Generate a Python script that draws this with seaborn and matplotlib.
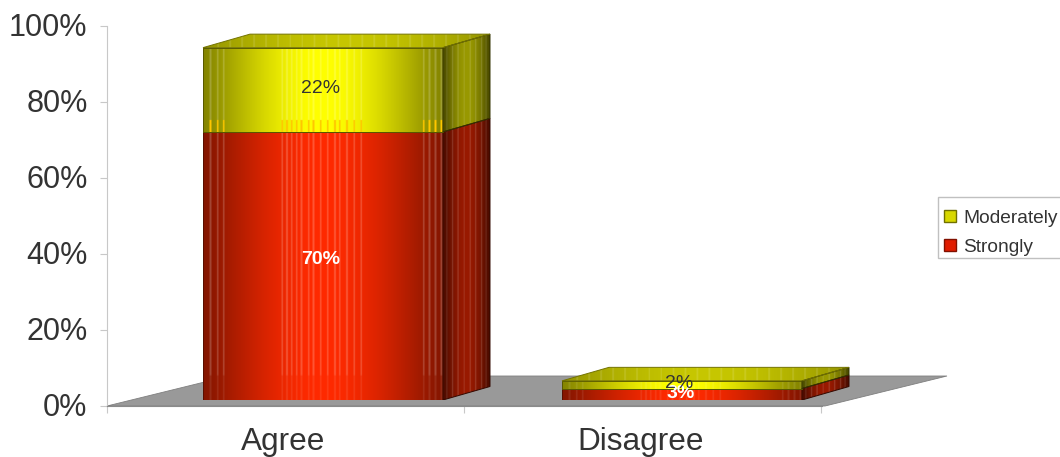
import numpy as np
import pandas as pd
import matplotlib
matplotlib.use("Agg")
import matplotlib.pyplot as plt
from matplotlib.patches import Polygon, Patch, Rectangle
from matplotlib.transforms import ScaledTranslation
import seaborn as sns

categories = ["Agree", "Disagree"]
strongly = [70, 3]
moderately = [22, 2]
strongly_labels = ["70%", "3%"]
moderately_labels = ["22%", "2%"]
y_ticks = [0, 20, 40, 60, 80, 100]

RED = np.array([255, 42, 0]) / 255
YELLOW = np.array([255, 255, 0]) / 255
FLOOR = "#999999"
TEXT = "#333333"
STREAKS = [.03, .06, .085, .33, .35, .37, .39, .41, .44, .46, .49, .52, .55,
           .57, .60, .63, .66, .92, .945, .97, .995]

W, H = 1060, 457
PX_X = 359.0          # pixels per category step
BAR_WIDTH = 240 / PX_X
LEFT_PX, RIGHT_PX = 107, 822
CAT0_PX = 323
DEPTH_X = 47 / PX_X
PX_PCT = 3.83
DEPTH_Y = 13.5 / PX_PCT
FLOOR_LINE_PCT = 24 / PX_PCT   # height on the front plane where the floor's back edge lies

sns.set_theme(style="white")
plt.rcParams["font.family"] = ["Liberation Sans", "DejaVu Sans"]

fig = plt.figure(figsize=(W / 100, H / 100), dpi=100)


def px_axes(left, right, bottom, top, **kw):
    return fig.add_axes([left / W, 1 - bottom / H, (right - left) / W, (bottom - top) / H], **kw)


# Wall and floor axes carry the ticks; the bars live on a wider front plane axes above them.
FRONT_RIGHT_PX = 900
ax = px_axes(LEFT_PX, RIGHT_PX, 406, 26)
front = px_axes(LEFT_PX, FRONT_RIGHT_PX, 400, 400 - 100 * PX_PCT)
xlim = ((LEFT_PX - CAT0_PX) / PX_X, (RIGHT_PX - CAT0_PX) / PX_X)
front_xlim = (xlim[0], (FRONT_RIGHT_PX - CAT0_PX) / PX_X)

ax.set_zorder(1)
front.set_zorder(2)
front.patch.set_visible(False)
front.axis("off")

df = pd.DataFrame({"category": categories, "strongly": strongly, "moderately": moderately})
sns.barplot(data=df, x="category", y="strongly", order=categories, color="#ff2a00",
            width=BAR_WIDTH, ax=front, legend=False, saturation=1)
sns.barplot(data=df, x="category", y="moderately", order=categories, color="#ffff00",
            width=BAR_WIDTH, bottom=df["strongly"], ax=front, legend=False, saturation=1)
front.set_xlim(front_xlim)
front.set_ylim(0, 100)
front.autoscale(False)


def shaded_face(axes, rgb, verts, extent, edge):
    img = axes.imshow(rgb, extent=extent, aspect="auto", zorder=3, interpolation="bilinear",
                      origin="lower")
    poly = Polygon(verts, closed=True, facecolor="none", edgecolor=edge, lw=0.7, zorder=4)
    axes.add_patch(poly)
    img.set_clip_path(poly)


def front_image(color, b, t, n=480, rows=120):
    xs = np.linspace(0, 1, n)
    ys = np.linspace(b, t, rows)
    shade = 0.52 + 0.48 * np.sin(np.pi * xs) ** 1.2
    streak = np.zeros(n)
    for s in STREAKS:
        streak[np.abs(xs - s) < 0.0035] = 1
    rgb = np.clip(color[None, None, :] * shade[None, :, None], 0, 1) * np.ones((rows, n, 3))
    light = 0.2 * streak[None, :] * np.where(ys[:, None] < FLOOR_LINE_PCT, 0.45, 1.0)
    rgb = rgb + (1 - rgb) * light[:, :, None]
    # The lower strip of a tall yellow block picks up an orange tint along its streaks.
    if color[1] > 0.9 and t - b > 10:
        tint = (ys[:, None] < b + 3) & (streak[None, :] > 0)
        rgb[tint] = (1.0, 0.78, 0.0)
    return rgb


def draw_block(bar, color, lid=True):
    x0, x1 = bar.get_x(), bar.get_x() + bar.get_width()
    b, t = bar.get_y(), bar.get_y() + bar.get_height()
    bar.set_visible(False)
    shaded_face(front, front_image(color, b, t), [(x0, b), (x1, b), (x1, t), (x0, t)],
                (x0, x1, b, t), tuple(color * 0.35))
    # Side wall
    ts = np.linspace(0, 1, 120)
    side = 0.28 + 0.32 * np.sin(np.pi * ts)
    side_light = np.zeros(120)
    for s in (.08, .2, .32, .45, .58, .7, .82, .92):
        side_light[np.abs(ts - s) < 0.012] = 0.16
    rgb = color[None, :] * side[:, None]
    rgb = (rgb + (1 - rgb) * side_light[:, None])[None, :, :]
    shaded_face(front, rgb, [(x1, b), (x1 + DEPTH_X, b + DEPTH_Y),
                             (x1 + DEPTH_X, t + DEPTH_Y), (x1, t)],
                (x1, x1 + DEPTH_X, b, t + DEPTH_Y), tuple(color * 0.2))
    # Lid of the stack
    if lid:
        xs = np.linspace(0, 1, 480)
        lid_shade = 0.58 + 0.2 * np.sin(np.pi * xs)
        stripes = 0.12 * (np.sin(xs * 150) > 0.9)
        rgb = color[None, :] * lid_shade[:, None]
        rgb = (rgb + (1 - rgb) * stripes[:, None])[None, :, :]
        shaded_face(front, rgb, [(x0, t), (x1, t), (x1 + DEPTH_X, t + DEPTH_Y),
                                 (x0 + DEPTH_X, t + DEPTH_Y)],
                    (x0, x1 + DEPTH_X, t, t + DEPTH_Y), tuple(color * 0.45))


bars = list(front.patches)
for bar in bars[:2]:
    draw_block(bar, RED, lid=False)
for bar in bars[2:4]:
    draw_block(bar, YELLOW)

# Value labels, nudged in points off the middle of each segment
strong_nudge = [(-2, 5), (-1, 0.6)]
moderate_nudge = [(-2, 0.7), (-2, 0.5)]
for i, (s, m) in enumerate(zip(strongly, moderately)):
    front.annotate(strongly_labels[i], (i, s / 2), xytext=strong_nudge[i],
                   textcoords="offset points", color="white", fontsize=14, fontweight="bold",
                   ha="center", va="center", zorder=6)
    front.annotate(moderately_labels[i], (i, s + m / 2), xytext=moderate_nudge[i],
                   textcoords="offset points", color=TEXT, fontsize=14,
                   ha="center", va="center", zorder=6)

# Floor and axes
y_scale = 380 / 100
ax.set_xlim(xlim)
ax.set_ylim(0, 100)
floor_dx = 122 / PX_X
floor_dy = 30 / y_scale
floor_right = (825 - CAT0_PX) / PX_X
ax.add_patch(Polygon([(xlim[0], 0), (floor_right, 0), (floor_right + floor_dx, floor_dy),
                      (xlim[0] + floor_dx, floor_dy)], closed=True, facecolor=FLOOR,
                     edgecolor="#7f7f7f", lw=0.6, clip_on=False, zorder=2))

edges = [xlim[0] + i * 357 / PX_X for i in range(3)]
centers = [(edges[i] + edges[i + 1]) / 2 for i in range(2)]
ax.set_xticks(edges)
ax.set_xticklabels([])
ax.set_xticks(centers, minor=True)
ax.set_xticklabels(categories, minor=True, fontsize=22.7, color=TEXT)
ax.set_yticks(y_ticks)
ax.set_yticklabels([f"{v}%" for v in y_ticks], fontsize=22, color=TEXT)
ax.tick_params(axis="x", which="major", length=5, width=0.8, color="#c8c8c8", bottom=True)
ax.tick_params(axis="x", which="minor", length=0, pad=15)
ax.tick_params(axis="y", length=5, width=0.8, color="#c8c8c8", pad=9, left=True)
nudge_x = ScaledTranslation(-2 / 100, 0, fig.dpi_scale_trans)
for lab in ax.get_xticklabels(minor=True):
    lab.set_transform(lab.get_transform() + nudge_x)
nudge_y = ScaledTranslation(0, 2 / 100, fig.dpi_scale_trans)
for lab in ax.get_yticklabels():
    lab.set_transform(lab.get_transform() + nudge_y)
sns.despine(ax=ax, top=True, right=True)
for side_name in ("left", "bottom"):
    ax.spines[side_name].set_color("#c8c8c8")
    ax.spines[side_name].set_linewidth(0.8)
ax.spines["bottom"].set_color("#8a8a8a")

# Legend box, running off the right side of the figure, with a frameless legend inside
fig.add_artist(Rectangle((938 / W, 1 - 258 / H), 130 / W, 61 / H, transform=fig.transFigure,
                         facecolor="white", edgecolor="#c0c0c0", lw=1.0))
handles = [Patch(facecolor="#d8d800", edgecolor="#707000", label="Moderately"),
           Patch(facecolor="#e01c00", edgecolor="#801000", label="Strongly")]
leg = fig.legend(handles=handles, loc="upper left", bbox_to_anchor=(944 / W, 1 - 210 / H),
                 bbox_transform=fig.transFigure, fontsize=13.8, frameon=False,
                 handlelength=0.62, handleheight=0.62, handletextpad=0.37, labelspacing=0.62,
                 borderpad=0, borderaxespad=0, labelcolor=TEXT)

fig.savefig("out.png", dpi=100)
